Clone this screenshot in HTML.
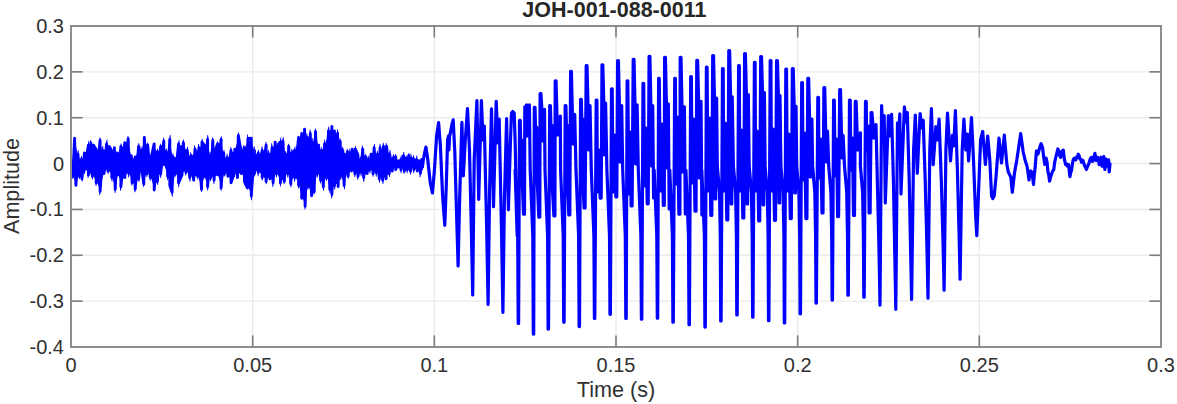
<!DOCTYPE html>
<html><head><meta charset="utf-8"><title>JOH-001-088-0011</title>
<style>
html,body{margin:0;padding:0;background:#fff;}
html{width:1177px;height:404px;overflow:hidden;}
body{width:1177px;height:404px;position:relative;overflow:hidden;font-family:"Liberation Sans",sans-serif;color:#303030;}
.xt{position:absolute;top:354.6px;width:30px;margin-left:25px;white-space:nowrap;display:flex;justify-content:center;text-align:center;font-size:20px;line-height:20px;}
.yt{position:absolute;left:0;width:64px;text-align:right;font-size:20px;line-height:20px;}
.title{position:absolute;left:69.4px;width:1090px;top:-1.0px;text-align:center;font-size:21.5px;font-weight:bold;line-height:22px;color:#262626;}
.xl{position:absolute;left:71px;width:1090px;top:378.9px;text-align:center;font-size:21.6px;line-height:22px;}
.yl{position:absolute;left:-68.1px;top:174.8px;width:160px;height:22px;text-align:center;font-size:21.6px;line-height:22px;transform:rotate(-90deg);transform-origin:center center;}
</style></head><body>
<svg width="1177" height="404" viewBox="0 0 1177 404" style="position:absolute;left:0;top:0"><rect x="0" y="0" width="1177" height="404" fill="#fff"/><g stroke="#ebebeb" stroke-width="1.4"><line x1="252.67" y1="26" x2="252.67" y2="347"/><line x1="434.33" y1="26" x2="434.33" y2="347"/><line x1="616.00" y1="26" x2="616.00" y2="347"/><line x1="797.67" y1="26" x2="797.67" y2="347"/><line x1="979.33" y1="26" x2="979.33" y2="347"/><line x1="71" y1="71.86" x2="1161" y2="71.86"/><line x1="71" y1="117.71" x2="1161" y2="117.71"/><line x1="71" y1="163.57" x2="1161" y2="163.57"/><line x1="71" y1="209.43" x2="1161" y2="209.43"/><line x1="71" y1="255.29" x2="1161" y2="255.29"/><line x1="71" y1="301.14" x2="1161" y2="301.14"/></g><g stroke="#7c7c7c" stroke-width="1.6"><line x1="252.67" y1="347" x2="252.67" y2="335.4"/><line x1="252.67" y1="26" x2="252.67" y2="37.6"/><line x1="434.33" y1="347" x2="434.33" y2="335.4"/><line x1="434.33" y1="26" x2="434.33" y2="37.6"/><line x1="616.00" y1="347" x2="616.00" y2="335.4"/><line x1="616.00" y1="26" x2="616.00" y2="37.6"/><line x1="797.67" y1="347" x2="797.67" y2="335.4"/><line x1="797.67" y1="26" x2="797.67" y2="37.6"/><line x1="979.33" y1="347" x2="979.33" y2="335.4"/><line x1="979.33" y1="26" x2="979.33" y2="37.6"/><line x1="71" y1="71.86" x2="82.6" y2="71.86"/><line x1="1161" y1="71.86" x2="1149.4" y2="71.86"/><line x1="71" y1="117.71" x2="82.6" y2="117.71"/><line x1="1161" y1="117.71" x2="1149.4" y2="117.71"/><line x1="71" y1="163.57" x2="82.6" y2="163.57"/><line x1="1161" y1="163.57" x2="1149.4" y2="163.57"/><line x1="71" y1="209.43" x2="82.6" y2="209.43"/><line x1="1161" y1="209.43" x2="1149.4" y2="209.43"/><line x1="71" y1="255.29" x2="82.6" y2="255.29"/><line x1="1161" y1="255.29" x2="1149.4" y2="255.29"/><line x1="71" y1="301.14" x2="82.6" y2="301.14"/><line x1="1161" y1="301.14" x2="1149.4" y2="301.14"/></g><g stroke="#828282" stroke-width="1.8"><rect x="71" y="26" width="1090" height="321" fill="none"/></g><clipPath id="cp"><rect x="72" y="27" width="1088" height="319"/></clipPath><g clip-path="url(#cp)"><polygon points="74.6,140.2 78.0,156.3 81.1,161.5 84.5,155.0 88.4,147.2 91.0,145.1 93.6,147.2 96.2,152.4 100.1,142.5 102.7,152.4 106.6,145.9 109.2,148.5 111.8,153.7 114.4,149.8 117.0,155.0 120.9,148.5 124.8,144.6 128.2,140.7 131.3,157.6 135.2,158.9 138.6,148.5 141.2,152.4 144.3,139.4 147.7,147.2 150.8,161.5 154.2,145.9 157.3,153.7 160.7,148.5 163.8,143.3 166.9,155.0 169.8,141.5 172.9,158.9 175.5,162.8 178.6,145.9 183.3,144.6 187.2,152.4 191.1,157.6 195.0,151.1 198.9,149.8 202.0,144.1 205.0,148.5 207.6,141.5 210.2,157.6 212.8,142.5 215.4,152.4 217.5,145.9 221.1,141.5 223.7,155.0 227.1,159.7 231.0,152.4 234.9,151.1 238.3,137.6 240.9,152.4 244.0,149.8 247.9,140.7 251.3,140.2 254.4,152.4 258.3,155.0 262.2,152.4 266.1,147.2 268.7,156.3 272.1,149.8 275.2,144.1 278.6,145.9 280.4,144.1 283.0,143.3 285.6,156.3 288.7,148.5 292.1,155.0 294.7,152.4 298.6,139.4 301.7,135.5 304.6,131.1 307.2,139.4 310.3,135.5 312.9,144.6 315.5,133.7 318.6,147.2 321.5,152.4 324.6,145.9 328.5,132.9 331.9,128.5 334.5,132.9 337.6,135.5 340.2,143.3 342.8,152.4 345.0,156.3 347.6,153.7 350.2,155.0 352.3,151.1 355.4,151.1 358.0,157.6 360.6,161.5 362.7,151.1 365.8,158.9 368.4,161.5 371.0,156.3 374.1,149.8 377.5,156.3 380.1,149.8 383.5,148.5 386.6,148.5 389.7,156.3 393.1,160.2 395.7,158.9 398.3,162.8 400.9,161.5 403.5,157.6 406.1,160.2 408.7,157.6 411.3,160.2 413.9,161.5 416.5,161.5 419.1,162.8 421.7,161.5 422.5,165.1 420.4,171.1 417.3,169.0 413.9,167.7 410.5,169.0 407.4,167.7 404.3,169.0 400.9,167.7 398.3,165.1 395.7,167.7 392.3,169.0 389.2,171.6 386.1,176.8 382.7,178.1 379.3,176.8 376.2,170.3 373.1,171.6 369.7,167.7 367.1,171.6 363.7,175.5 361.1,170.3 358.0,174.2 354.9,171.6 351.5,169.0 348.1,174.2 345.0,172.9 344.1,183.3 340.7,174.2 338.1,184.6 334.5,183.3 331.9,192.4 329.8,187.2 326.7,175.5 323.3,184.6 320.7,178.1 317.3,171.6 314.2,189.8 311.6,193.7 307.7,184.6 305.1,204.1 301.7,196.3 298.6,183.3 294.7,175.5 290.8,182.0 287.7,171.6 284.3,179.4 280.4,180.7 276.5,171.6 273.1,180.7 270.0,176.8 266.1,179.4 262.2,175.5 258.3,170.3 254.4,171.6 251.3,193.7 247.4,185.9 244.5,179.4 241.4,171.6 237.5,175.5 234.1,171.6 231.0,180.7 227.9,174.2 224.5,171.6 221.1,185.9 217.5,172.9 214.1,178.1 210.7,175.5 207.6,184.6 205.0,174.2 201.5,187.2 197.6,174.2 193.7,178.1 189.8,175.5 185.9,170.3 182.0,172.9 178.6,180.7 175.5,171.6 172.1,190.3 169.8,183.3 167.7,174.2 163.8,164.0 160.7,171.6 157.3,179.4 154.2,188.0 150.3,175.5 146.9,171.6 143.8,182.0 141.2,164.0 138.6,176.8 135.2,187.2 132.1,180.7 128.7,171.6 124.8,175.5 120.9,184.6 118.3,172.9 115.2,187.2 111.8,175.5 107.9,169.0 104.0,171.6 100.1,189.3 96.2,180.7 92.3,174.2 88.4,172.9 84.5,167.7 81.9,176.8 79.3,174.2 75.9,183.3 72.8,174.2" fill="#0000ff"/><polyline points="71.3,163.6 72.8,176.2 74.6,138.2 75.9,185.3 78.0,154.3 79.3,176.2 81.1,159.5 81.9,178.8 84.5,153.0 84.5,169.7 88.4,145.2 88.4,174.9 91.0,143.1 92.3,176.2 93.6,145.2 96.2,150.4 96.2,182.7 100.1,140.5 100.1,191.3 102.7,150.4 104.0,173.6 106.6,143.9 107.9,171.0 109.2,146.5 111.8,151.7 111.8,177.5 114.4,147.8 115.2,189.2 117.0,153.0 118.3,174.9 120.9,146.5 120.9,186.6 124.8,142.6 124.8,177.5 128.2,138.7 128.7,173.6 131.3,155.6 132.1,182.7 135.2,156.9 135.2,189.2 138.6,146.5 138.6,178.8 141.2,150.4 141.2,164.5 143.8,184.0 144.3,137.4 146.9,173.6 147.7,145.2 150.3,177.5 150.8,159.5 154.2,143.9 154.2,190.0 157.3,151.7 157.3,181.4 160.7,146.5 160.7,173.6 163.8,141.3 163.8,164.5 166.9,153.0 167.7,176.2 169.8,139.5 169.8,185.3 172.1,192.3 172.9,156.9 175.5,160.8 175.5,173.6 178.6,143.9 178.6,182.7 182.0,174.9 183.3,142.6 185.9,172.3 187.2,150.4 189.8,177.5 191.1,155.6 193.7,180.1 195.0,149.1 197.6,176.2 198.9,147.8 201.5,189.2 202.0,142.1 205.0,146.5 205.0,176.2 207.6,139.5 207.6,186.6 210.2,155.6 210.7,177.5 212.8,140.5 214.1,180.1 215.4,150.4 217.5,143.9 217.5,174.9 221.1,139.5 221.1,187.9 223.7,153.0 224.5,173.6 227.1,157.7 227.9,176.2 231.0,150.4 231.0,182.7 234.1,173.6 234.9,149.1 237.5,177.5 238.3,135.6 240.9,150.4 241.4,173.6 244.0,147.8 244.5,181.4 247.4,187.9 247.9,138.7 251.3,138.2 251.3,195.7 254.4,150.4 254.4,173.6 258.3,153.0 258.3,172.3 262.2,150.4 262.2,177.5 266.1,145.2 266.1,181.4 268.7,154.3 270.0,178.8 272.1,147.8 273.1,182.7 275.2,142.1 276.5,173.6 278.6,143.9 280.4,142.1 280.4,182.7 283.0,141.3 284.3,181.4 285.6,154.3 287.7,173.6 288.7,146.5 290.8,184.0 292.1,153.0 294.7,150.4 294.7,177.5 298.6,137.4 298.6,185.3 301.7,133.5 301.7,198.3 304.6,129.1 305.1,206.1 307.2,137.4 307.7,186.6 310.3,133.5 311.6,195.7 312.9,142.6 314.2,191.8 315.5,131.7 317.3,173.6 318.6,145.2 320.7,180.1 321.5,150.4 323.3,186.6 324.6,143.9 326.7,177.5 328.5,130.9 329.8,189.2 331.9,126.5 331.9,194.4 334.5,130.9 334.5,185.3 337.6,133.5 338.1,186.6 340.2,141.3 340.7,176.2 342.8,150.4 344.1,185.3 345.0,154.3 345.0,174.9 347.6,151.7 348.1,176.2 350.2,153.0 351.5,171.0 352.3,149.1 354.9,173.6 355.4,149.1 358.0,155.6 358.0,176.2 360.6,159.5 361.1,172.3 362.7,149.1 363.7,177.5 365.8,156.9 367.1,173.6 368.4,159.5 369.7,169.7 371.0,154.3 373.1,173.6 374.1,147.8 376.2,172.3 377.5,154.3 379.3,178.8 380.1,147.8 382.7,180.1 383.5,146.5 386.1,178.8 386.6,146.5 389.2,173.6 389.7,154.3 392.3,171.0 393.1,158.2 395.7,156.9 395.7,169.7 398.3,160.8 398.3,167.1 400.9,159.5 400.9,169.7 403.5,155.6 404.3,171.0 406.1,158.2 407.4,169.7 408.7,155.6 410.5,171.0 411.3,158.2 413.9,159.5 413.9,169.7 416.5,159.5 417.3,171.0 419.1,160.8 420.4,173.1 421.7,159.5 422.5,167.1 422.5,166.0" fill="none" stroke="#0000ff" stroke-width="2.9" stroke-linejoin="round" stroke-linecap="butt"/><path d="M76.9,155.9L77.9,149.9L78.6,149.9L79.1,155.9ZM80.0,161.1L81.2,156.1L81.9,156.1L82.2,161.1ZM87.3,146.8L88.5,140.8L89.2,140.8L89.5,146.8ZM89.9,144.7L90.3,140.1L91.0,140.1L92.1,144.7ZM95.1,152.0L96.0,147.2L96.7,147.2L97.3,152.0ZM99.0,142.1L99.6,137.2L100.3,137.2L101.2,142.1ZM101.6,152.0L102.4,146.0L103.1,146.0L103.8,152.0ZM105.5,145.5L106.7,139.6L107.4,139.6L107.7,145.5ZM110.7,153.3L111.1,147.4L111.8,147.4L112.9,153.3ZM119.8,148.1L120.8,143.5L121.5,143.5L122.0,148.1ZM127.1,140.3L127.6,136.0L128.3,136.0L129.3,140.3ZM137.5,148.1L138.5,143.1L139.2,143.1L139.7,148.1ZM140.1,152.0L140.6,146.3L141.3,146.3L142.3,152.0ZM146.6,146.8L147.4,142.5L148.1,142.5L148.8,146.8ZM149.7,161.1L150.3,155.1L151.0,155.1L151.9,161.1ZM156.2,153.3L157.4,148.5L158.1,148.5L158.4,153.3ZM159.6,148.1L160.4,143.8L161.1,143.8L161.8,148.1ZM162.7,142.9L163.3,137.5L164.0,137.5L164.9,142.9ZM165.8,154.6L166.1,148.7L166.8,148.7L168.0,154.6ZM168.7,141.1L169.9,135.1L170.6,135.1L170.9,141.1ZM171.8,158.5L172.5,153.2L173.2,153.2L174.0,158.5ZM174.4,162.4L175.2,157.1L175.9,157.1L176.6,162.4ZM177.5,145.5L178.7,140.3L179.4,140.3L179.7,145.5ZM182.2,144.2L183.1,139.5L183.8,139.5L184.4,144.2ZM186.1,152.0L187.3,146.7L188.0,146.7L188.3,152.0ZM190.0,157.2L190.2,152.2L190.9,152.2L192.2,157.2ZM193.9,150.7L194.1,145.3L194.8,145.3L196.1,150.7ZM197.8,149.4L198.1,143.9L198.8,143.9L200.0,149.4ZM200.9,143.7L201.8,138.8L202.5,138.8L203.1,143.7ZM203.9,148.1L204.9,143.8L205.6,143.8L206.1,148.1ZM206.5,141.1L207.4,134.9L208.1,134.9L208.7,141.1ZM209.1,157.2L209.8,151.8L210.5,151.8L211.3,157.2ZM211.7,142.1L212.3,137.3L213.0,137.3L213.9,142.1ZM214.3,152.0L215.1,147.2L215.8,147.2L216.5,152.0ZM216.4,145.5L217.4,141.2L218.1,141.2L218.6,145.5ZM220.0,141.1L221.0,136.3L221.7,136.3L222.2,141.1ZM222.6,154.6L223.7,149.9L224.4,149.9L224.8,154.6ZM226.0,159.3L226.7,153.7L227.4,153.7L228.2,159.3ZM229.9,152.0L230.5,147.1L231.2,147.1L232.1,152.0ZM237.2,137.2L238.3,132.6L239.0,132.6L239.4,137.2ZM239.8,152.0L240.7,146.0L241.4,146.0L242.0,152.0ZM242.9,149.4L243.4,145.0L244.1,145.0L245.1,149.4ZM246.8,140.3L247.2,134.5L247.9,134.5L249.0,140.3ZM253.3,152.0L253.8,146.2L254.5,146.2L255.5,152.0ZM257.2,154.6L258.2,149.7L258.9,149.7L259.4,154.6ZM261.1,152.0L261.6,146.2L262.3,146.2L263.3,152.0ZM265.0,146.8L265.6,141.8L266.3,141.8L267.2,146.8ZM267.6,155.9L268.2,149.8L268.9,149.8L269.8,155.9ZM271.0,149.4L271.2,143.3L271.9,143.3L273.2,149.4ZM279.3,143.7L280.5,137.6L281.2,137.6L281.5,143.7ZM281.9,142.9L282.9,137.0L283.6,137.0L284.1,142.9ZM284.5,155.9L285.3,151.1L286.0,151.1L286.7,155.9ZM287.6,148.1L288.1,143.8L288.8,143.8L289.8,148.1ZM291.0,154.6L291.5,148.8L292.2,148.8L293.2,154.6ZM293.6,152.0L294.7,146.4L295.4,146.4L295.8,152.0ZM306.1,139.0L306.3,133.3L307.0,133.3L308.3,139.0ZM309.2,135.1L309.7,129.6L310.4,129.6L311.4,135.1ZM311.8,144.2L312.4,138.1L313.1,138.1L314.0,144.2ZM314.4,133.3L315.0,128.6L315.7,128.6L316.6,133.3ZM320.4,152.0L321.4,147.1L322.1,147.1L322.6,152.0ZM323.5,145.5L324.3,139.7L325.0,139.7L325.7,145.5ZM327.4,132.5L328.4,126.5L329.1,126.5L329.6,132.5ZM336.5,135.1L337.3,129.2L338.0,129.2L338.7,135.1ZM339.1,142.9L339.6,138.2L340.3,138.2L341.3,142.9ZM341.7,152.0L342.3,146.8L343.0,146.8L343.9,152.0ZM346.5,153.3L346.8,148.8L347.5,148.8L348.7,153.3ZM349.1,154.6L349.4,148.4L350.1,148.4L351.3,154.6ZM354.3,150.7L355.0,145.9L355.7,145.9L356.5,150.7ZM356.9,157.2L357.5,151.7L358.2,151.7L359.1,157.2ZM359.5,161.1L360.1,156.5L360.8,156.5L361.7,161.1ZM361.6,150.7L361.9,145.4L362.6,145.4L363.8,150.7ZM364.7,158.5L365.3,154.1L366.0,154.1L366.9,158.5ZM367.3,161.1L367.9,155.7L368.6,155.7L369.5,161.1ZM373.0,149.4L374.1,143.9L374.8,143.9L375.2,149.4ZM376.4,155.9L377.0,150.7L377.7,150.7L378.6,155.9ZM379.0,149.4L379.7,143.8L380.4,143.8L381.2,149.4ZM382.4,148.1L382.9,142.8L383.6,142.8L384.6,148.1ZM385.5,148.1L385.8,143.0L386.5,143.0L387.7,148.1ZM388.6,155.9L389.7,149.8L390.4,149.8L390.8,155.9ZM392.0,159.8L393.1,154.0L393.8,154.0L394.2,159.8ZM394.6,158.5L395.3,154.0L396.0,154.0L396.8,158.5ZM399.8,161.1L400.9,155.3L401.6,155.3L402.0,161.1ZM402.4,157.2L403.4,151.9L404.1,151.9L404.6,157.2ZM405.0,159.8L405.8,155.6L406.5,155.6L407.2,159.8ZM407.6,157.2L408.6,152.9L409.3,152.9L409.8,157.2ZM410.2,159.8L410.5,153.8L411.2,153.8L412.4,159.8ZM412.8,161.1L413.1,155.2L413.8,155.2L415.0,161.1ZM415.4,161.1L416.5,155.5L417.2,155.5L417.6,161.1ZM71.7,174.6L72.7,178.9L73.4,178.9L73.9,174.6ZM78.2,174.6L79.2,179.0L79.9,179.0L80.4,174.6ZM80.8,177.2L82.0,181.5L82.7,181.5L83.0,177.2ZM83.4,168.1L84.2,173.9L84.9,173.9L85.6,168.1ZM87.3,173.3L87.7,178.0L88.4,178.0L89.5,173.3ZM91.2,174.6L92.2,179.6L92.9,179.6L93.4,174.6ZM95.1,181.1L95.7,186.0L96.4,186.0L97.3,181.1ZM99.0,189.7L99.3,194.9L100.0,194.9L101.2,189.7ZM106.8,169.4L107.8,173.9L108.5,173.9L109.0,169.4ZM110.7,175.9L111.7,181.4L112.4,181.4L112.9,175.9ZM114.1,187.6L114.8,193.1L115.5,193.1L116.3,187.6ZM119.8,185.0L120.1,190.7L120.8,190.7L122.0,185.0ZM127.6,172.0L128.3,177.6L129.0,177.6L129.8,172.0ZM131.0,181.1L131.5,185.7L132.2,185.7L133.2,181.1ZM134.1,187.6L134.6,192.2L135.3,192.2L136.3,187.6ZM137.5,177.2L138.7,182.0L139.4,182.0L139.7,177.2ZM140.1,162.9L140.7,168.8L141.4,168.8L142.3,162.9ZM142.7,182.4L143.2,187.0L143.9,187.0L144.9,182.4ZM145.8,172.0L146.5,177.0L147.2,177.0L148.0,172.0ZM149.2,175.9L149.8,180.7L150.5,180.7L151.4,175.9ZM156.2,179.8L157.4,184.9L158.1,184.9L158.4,179.8ZM159.6,172.0L160.3,177.9L161.0,177.9L161.8,172.0ZM166.6,174.6L167.3,180.2L168.0,180.2L168.8,174.6ZM171.0,190.7L172.0,196.8L172.7,196.8L173.2,190.7ZM174.4,172.0L174.9,176.7L175.6,176.7L176.6,172.0ZM177.5,181.1L178.4,187.2L179.1,187.2L179.7,181.1ZM184.8,170.7L185.2,175.4L185.9,175.4L187.0,170.7ZM188.7,175.9L189.6,181.8L190.3,181.8L190.9,175.9ZM196.5,174.6L197.6,179.4L198.3,179.4L198.7,174.6ZM200.4,187.6L201.3,192.0L202.0,192.0L202.6,187.6ZM203.9,174.6L205.0,179.4L205.7,179.4L206.1,174.6ZM206.5,185.0L207.3,190.5L208.0,190.5L208.7,185.0ZM209.6,175.9L210.2,181.0L210.9,181.0L211.8,175.9ZM213.0,178.5L213.5,183.9L214.2,183.9L215.2,178.5ZM220.0,186.3L220.8,190.7L221.5,190.7L222.2,186.3ZM223.4,172.0L224.3,176.4L225.0,176.4L225.6,172.0ZM233.0,172.0L234.2,176.9L234.9,176.9L235.2,172.0ZM243.4,179.8L244.3,185.3L245.0,185.3L245.6,179.8ZM250.2,194.1L251.2,200.2L251.9,200.2L252.4,194.1ZM253.3,172.0L254.1,176.4L254.8,176.4L255.5,172.0ZM257.2,170.7L257.8,176.3L258.5,176.3L259.4,170.7ZM261.1,175.9L261.9,180.4L262.6,180.4L263.3,175.9ZM265.0,179.8L265.9,184.3L266.6,184.3L267.2,179.8ZM272.0,181.1L272.4,187.1L273.1,187.1L274.2,181.1ZM275.4,172.0L276.0,177.6L276.7,177.6L277.6,172.0ZM279.3,181.1L280.1,186.6L280.8,186.6L281.5,181.1ZM283.2,179.8L283.7,184.3L284.4,184.3L285.4,179.8ZM286.6,172.0L287.5,177.7L288.2,177.7L288.8,172.0ZM289.7,182.4L290.7,187.3L291.4,187.3L291.9,182.4ZM293.6,175.9L294.2,181.8L294.9,181.8L295.8,175.9ZM297.5,183.7L298.2,188.4L298.9,188.4L299.7,183.7ZM304.0,204.5L304.6,209.5L305.3,209.5L306.2,204.5ZM306.6,185.0L307.6,189.9L308.3,189.9L308.8,185.0ZM313.1,190.2L313.6,194.6L314.3,194.6L315.3,190.2ZM316.2,172.0L317.2,177.6L317.9,177.6L318.4,172.0ZM319.6,178.5L320.0,183.5L320.7,183.5L321.8,178.5ZM322.2,185.0L323.2,190.7L323.9,190.7L324.4,185.0ZM325.6,175.9L325.9,180.9L326.6,180.9L327.8,175.9ZM328.7,187.6L329.5,192.9L330.2,192.9L330.9,187.6ZM330.8,192.8L331.3,198.5L332.0,198.5L333.0,192.8ZM333.4,183.7L334.4,189.7L335.1,189.7L335.6,183.7ZM339.6,174.6L340.4,180.0L341.1,180.0L341.8,174.6ZM343.0,183.7L344.2,189.3L344.9,189.3L345.2,183.7ZM343.9,173.3L345.0,178.5L345.7,178.5L346.1,173.3ZM347.0,174.6L348.0,178.8L348.7,178.8L349.2,174.6ZM353.8,172.0L354.5,177.2L355.2,177.2L356.0,172.0ZM356.9,174.6L357.3,179.8L358.0,179.8L359.1,174.6ZM360.0,170.7L360.8,176.2L361.5,176.2L362.2,170.7ZM362.6,175.9L363.4,182.0L364.1,182.0L364.8,175.9ZM368.6,168.1L369.6,173.5L370.3,173.5L370.8,168.1ZM372.0,172.0L372.6,176.7L373.3,176.7L374.2,172.0ZM375.1,170.7L375.9,176.7L376.6,176.7L377.3,170.7ZM378.2,177.2L379.3,182.8L380.0,182.8L380.4,177.2ZM381.6,178.5L382.7,183.9L383.4,183.9L383.8,178.5ZM388.1,172.0L389.1,176.9L389.8,176.9L390.3,172.0ZM399.8,168.1L400.8,173.3L401.5,173.3L402.0,168.1ZM403.2,169.4L403.5,173.7L404.2,173.7L405.4,169.4ZM406.3,168.1L406.7,173.3L407.4,173.3L408.5,168.1ZM409.4,169.4L410.2,174.4L410.9,174.4L411.6,169.4ZM412.8,168.1L413.3,173.2L414.0,173.2L415.0,168.1ZM419.3,171.5L419.7,177.5L420.4,177.5L421.5,171.5ZM421.4,165.5L422.0,170.4L422.7,170.4L423.6,165.5Z" fill="#0000ff"/><polyline points="422.5,166.0 423.3,160.0 424.6,153.0 425.9,147.0 427.6,158.0 430.2,182.0 432.4,193.0 434.3,172.0 436.6,136.0 438.6,122.7 440.4,146.0 442.6,196.0 444.8,225.3 446.3,185.0 447.6,140.0 448.6,136.0 448.9,150.0 449.6,136.0 450.6,132.0 451.8,125.0 453.2,119.8 454.8,152.0 456.7,218.0 458.1,266.0 459.6,200.0 461.9,122.3 463.3,175.8 465.3,140.0 467.5,108.5 469.5,150.0 471.4,232.0 472.7,295.0 474.2,160.0 476.9,100.6 478.7,199.3 481.4,100.6 483.0,140.0 484.3,126.0 486.6,225.0 488.1,304.4 489.6,190.0 491.5,108.8 493.5,206.7 496.2,101.4 497.9,143.0 499.2,119.2 501.6,235.0 502.9,312.3 504.4,200.0 506.6,118.7 508.4,209.7 510.5,140.0 511.5,113.0 512.8,111.5 514.2,113.0 515.1,140.0 517.2,236.0 515.1,170.0 517.7,236.0 518.2,323.4 518.6,323.4 519.5,120.4 520.2,120.4 520.8,144.4 521.9,140.4 522.0,175.0 523.5,214.2 524.5,214.2 524.8,106.8 525.6,106.8 526.6,104.9 527.2,136.0 527.8,136.0 529.4,104.9 530.2,170.0 532.8,236.0 533.3,334.1 533.7,334.1 534.3,107.3 535.0,107.3 535.6,131.3 536.7,127.3 537.1,178.0 538.8,217.1 539.8,217.1 540.1,93.7 540.9,93.7 541.9,109.3 542.5,141.0 543.1,141.0 544.5,109.3 545.0,170.0 547.6,236.0 548.1,329.1 548.5,329.1 549.7,105.6 550.4,105.6 551.0,129.6 552.1,125.6 551.9,180.0 553.9,215.9 554.9,215.9 555.2,80.8 556.0,80.8 557.0,116.2 557.6,135.0 558.2,135.0 560.3,116.2 560.6,170.0 563.2,236.0 563.7,322.2 564.1,322.2 565.2,105.6 565.9,105.6 566.5,129.6 567.6,125.6 567.5,182.0 568.8,214.9 569.8,214.9 570.6,71.4 571.4,71.4 572.4,114.3 573.0,144.0 573.6,144.0 574.7,114.3 576.0,170.0 578.6,236.0 579.1,326.6 579.5,326.6 580.6,99.4 581.3,99.4 581.9,123.4 583.0,119.4 582.9,184.0 584.1,208.0 585.1,208.0 586.2,65.5 587.0,65.5 588.0,105.6 588.6,150.0 589.2,150.0 590.0,105.6 591.3,170.0 593.9,236.0 594.4,318.5 594.8,318.5 596.2,100.1 596.9,100.1 597.4,192.0 598.9,150.0 600.2,198.1 601.2,198.1 602.0,64.8 602.8,64.8 603.8,103.1 604.4,155.0 605.0,155.0 605.6,103.1 606.9,170.0 609.5,236.0 610.0,314.3 610.4,314.3 611.5,88.8 612.2,88.8 613.0,192.0 614.5,135.0 615.8,196.8 616.8,196.8 617.6,60.5 618.4,60.5 619.4,105.6 620.0,162.0 620.6,162.0 621.7,105.6 622.7,170.0 625.3,236.0 625.8,318.5 626.2,318.5 627.1,80.8 627.8,80.8 628.8,194.0 630.3,132.0 631.1,206.0 632.1,206.0 633.2,59.3 634.0,59.3 635.0,104.9 635.6,164.0 636.2,164.0 637.1,104.9 638.3,170.0 640.9,236.0 641.4,319.2 641.8,319.2 643.0,83.3 643.7,83.3 644.4,186.0 645.9,128.0 647.2,203.8 648.2,203.8 649.1,56.3 649.9,56.3 650.9,105.6 651.5,166.0 652.1,166.0 652.7,105.6 653.6,198.0 654.5,178.0 654.2,170.0 656.8,236.0 657.3,318.2 657.7,318.2 658.6,78.4 659.3,78.4 660.3,191.0 661.8,124.0 663.3,205.5 664.3,205.5 664.6,57.3 665.4,57.3 666.4,103.9 667.0,168.0 667.6,168.0 668.3,103.9 669.2,209.0 670.1,189.0 669.8,170.0 672.4,236.0 672.9,322.2 673.3,322.2 674.7,78.4 675.4,78.4 675.9,184.0 677.4,117.0 678.9,214.2 679.9,214.2 680.2,57.3 681.0,57.3 682.0,106.8 682.6,172.0 683.2,172.0 684.4,106.8 685.3,214.0 686.2,194.0 685.9,170.0 688.5,236.0 689.0,324.7 689.4,324.7 690.7,76.6 691.4,76.6 692.0,183.0 693.5,119.0 695.0,211.2 696.0,211.2 696.8,60.3 697.6,60.3 698.6,101.4 699.2,178.0 699.8,178.0 701.0,101.4 701.9,215.0 702.8,195.0 701.8,170.0 704.4,236.0 704.9,327.1 705.3,327.1 706.4,67.2 707.1,67.2 707.9,191.0 709.4,118.0 710.8,215.4 711.8,215.4 712.7,55.6 713.5,55.6 714.5,98.2 715.1,199.0 715.7,199.0 716.6,98.2 717.3,166.0 719.5,192.0 720.3,236.0 720.7,320.9 721.1,320.9 722.5,68.5 723.2,68.5 723.7,191.0 725.2,123.0 726.8,220.0 727.8,220.0 728.8,50.6 729.6,50.6 730.6,96.9 731.2,204.0 731.8,204.0 732.2,96.9 733.4,166.0 735.6,192.0 736.4,236.0 736.8,315.0 737.2,315.0 738.6,65.5 739.3,65.5 739.8,191.0 741.3,130.0 742.8,218.0 743.8,218.0 744.6,53.6 745.4,53.6 746.4,94.5 747.0,204.0 747.6,204.0 748.3,94.5 749.2,166.0 751.4,192.0 752.2,236.0 752.6,317.2 753.0,317.2 754.4,62.3 755.1,62.3 755.6,191.0 757.1,131.0 758.7,221.0 759.7,221.0 760.7,56.6 761.5,56.6 762.5,92.5 763.1,205.0 763.7,205.0 764.4,92.5 765.1,166.0 767.3,192.0 768.1,236.0 768.5,320.7 768.9,320.7 770.2,60.5 770.9,60.5 771.5,191.0 773.0,129.0 774.5,220.3 775.5,220.3 776.6,60.5 777.4,60.5 778.4,95.7 779.0,203.0 779.6,203.0 780.0,95.7 780.9,166.0 783.1,192.0 783.9,236.0 784.3,322.9 784.7,322.9 785.8,69.2 786.5,69.2 787.3,191.0 788.8,134.0 790.3,218.6 791.3,218.6 792.4,68.5 793.2,68.5 794.2,106.3 794.8,193.0 795.4,193.0 796.0,106.3 796.7,166.0 798.9,192.0 799.7,236.0 800.1,313.8 800.5,313.8 801.7,82.6 802.4,82.6 803.1,180.0 804.6,133.0 805.9,218.6 806.9,218.6 807.8,78.4 808.6,78.4 809.6,119.2 810.2,177.0 810.8,177.0 811.9,119.2 812.6,166.0 814.8,192.0 815.6,236.0 816.0,303.1 816.4,303.1 817.8,97.4 818.5,97.4 819.0,178.0 820.5,139.0 822.0,212.9 823.0,212.9 823.9,87.5 824.7,87.5 825.7,131.1 826.3,162.0 826.9,162.0 827.5,131.1 828.7,166.0 830.9,192.0 831.7,236.0 832.1,300.1 832.5,300.1 833.6,100.1 834.3,100.1 835.1,176.0 836.6,139.0 837.6,216.6 838.6,216.6 839.7,89.5 840.5,89.5 841.5,135.3 842.1,158.0 842.7,158.0 843.1,135.3 844.5,166.0 846.7,192.0 847.5,236.0 847.9,295.2 848.3,295.2 849.5,100.1 850.2,100.1 850.9,170.0 852.4,138.0 853.5,215.4 854.5,215.4 855.3,101.4 856.1,101.4 857.1,132.8 857.7,150.0 858.3,150.0 860.4,132.8 860.4,166.0 862.6,192.0 863.4,236.0 863.8,297.2 864.2,297.2 865.5,101.4 866.2,101.4 866.8,150.0 868.3,126.0 869.1,212.9 870.1,212.9 871.1,112.5 871.9,112.5 872.9,124.7 873.5,138.0 874.1,138.0 876.0,124.7 879.0,250.0 880.0,305.1 881.6,105.6 883.0,135.0 884.2,115.5 885.3,203.0 888.4,115.5 890.0,136.0 891.6,114.3 893.4,180.0 894.8,255.0 895.8,309.3 897.5,122.9 898.6,140.0 899.8,113.8 901.0,193.9 904.4,106.8 906.0,122.0 907.3,112.5 909.2,180.0 910.6,250.0 911.6,299.4 913.6,150.0 915.3,115.0 917.3,173.3 920.1,113.5 921.8,128.0 923.2,120.4 925.2,180.0 927.0,250.0 928.0,298.2 929.8,150.0 931.4,108.6 933.2,164.7 935.9,126.6 937.5,140.0 939.1,119.2 941.3,180.0 943.1,245.0 944.1,290.2 945.9,150.0 947.5,113.0 950.5,160.9 952.5,135.3 953.8,146.0 955.4,110.5 957.4,170.0 959.1,235.0 960.1,279.1 962.2,150.0 963.9,119.2 965.8,150.0 967.3,134.1 968.6,160.9 971.5,117.5 973.5,160.0 975.6,215.0 976.8,235.7 978.6,190.0 980.6,140.0 982.7,131.5 985.4,164.5 987.7,136.0 989.8,160.0 991.6,196.0 992.8,198.5 994.2,196.0 996.0,177.0 999.0,138.2 1001.5,163.0 1004.3,135.1 1006.8,164.0 1008.3,172.0 1010.8,177.0 1012.3,192.4 1014.5,173.0 1016.8,160.0 1020.7,133.6 1023.2,152.0 1025.3,161.0 1027.0,166.0 1028.0,172.4 1029.0,180.0 1029.8,174.5 1030.6,171.0 1031.8,172.0 1032.7,177.5 1033.5,184.5 1034.3,174.7 1035.2,167.0 1036.4,151.0 1037.2,151.4 1038.0,154.0 1039.3,149.0 1040.2,146.0 1041.0,143.7 1041.8,145.5 1042.6,148.0 1043.7,157.0 1044.8,164.5 1046.1,158.0 1047.0,162.0 1048.0,172.0 1048.8,175.2 1049.6,181.2 1050.7,176.7 1051.7,173.5 1052.8,170.9 1053.8,169.5 1054.6,162.7 1055.4,159.0 1056.6,154.0 1057.9,149.0 1058.8,151.5 1059.8,155.8 1060.6,157.4 1061.9,151.0 1063.3,150.1 1064.3,159.0 1065.7,164.6 1066.6,164.0 1067.4,166.2 1068.6,164.6 1069.9,176.7 1070.7,172.6 1071.5,170.3 1072.7,162.2 1073.5,159.1 1074.3,158.2 1075.1,158.5 1075.9,159.8 1076.7,156.8 1077.5,157.5 1078.3,154.2 1079.1,155.6 1079.9,159.0 1080.7,159.3 1081.5,162.2 1082.3,160.2 1083.1,160.6 1084.4,165.4 1085.4,167.0 1086.4,169.5 1087.6,166.2 1088.8,163.8 1089.9,159.8 1091.2,157.4 1092.5,161.4 1093.6,158.2 1094.9,153.3 1096.0,160.6 1096.8,157.2 1097.6,157.4 1098.4,159.5 1099.2,164.6 1100.1,160.1 1100.9,157.4 1102.1,166.2 1102.9,161.0 1103.8,156.6 1104.9,169.5 1106.2,159.0 1107.3,166.2 1108.6,159.8 1109.2,171.9 1110.0,163.8" fill="none" stroke="#0000ff" stroke-width="3.2" stroke-linejoin="round" stroke-linecap="round"/></g></svg>
<div class="title">JOH-001-088-0011</div>
<div class="xt" style="left:31.0px">0</div><div class="xt" style="left:212.7px">0.05</div><div class="xt" style="left:394.3px">0.1</div><div class="xt" style="left:576.0px">0.15</div><div class="xt" style="left:757.7px">0.2</div><div class="xt" style="left:939.3px">0.25</div><div class="xt" style="left:1121.0px">0.3</div><div class="yt" style="top:15.9px">0.3</div><div class="yt" style="top:61.8px">0.2</div><div class="yt" style="top:107.6px">0.1</div><div class="yt" style="top:153.5px">0</div><div class="yt" style="top:199.3px">-0.1</div><div class="yt" style="top:245.2px">-0.2</div><div class="yt" style="top:291.0px">-0.3</div><div class="yt" style="top:336.9px">-0.4</div>
<div class="xl">Time (s)</div>
<div class="yl">Amplitude</div>
</body></html>
